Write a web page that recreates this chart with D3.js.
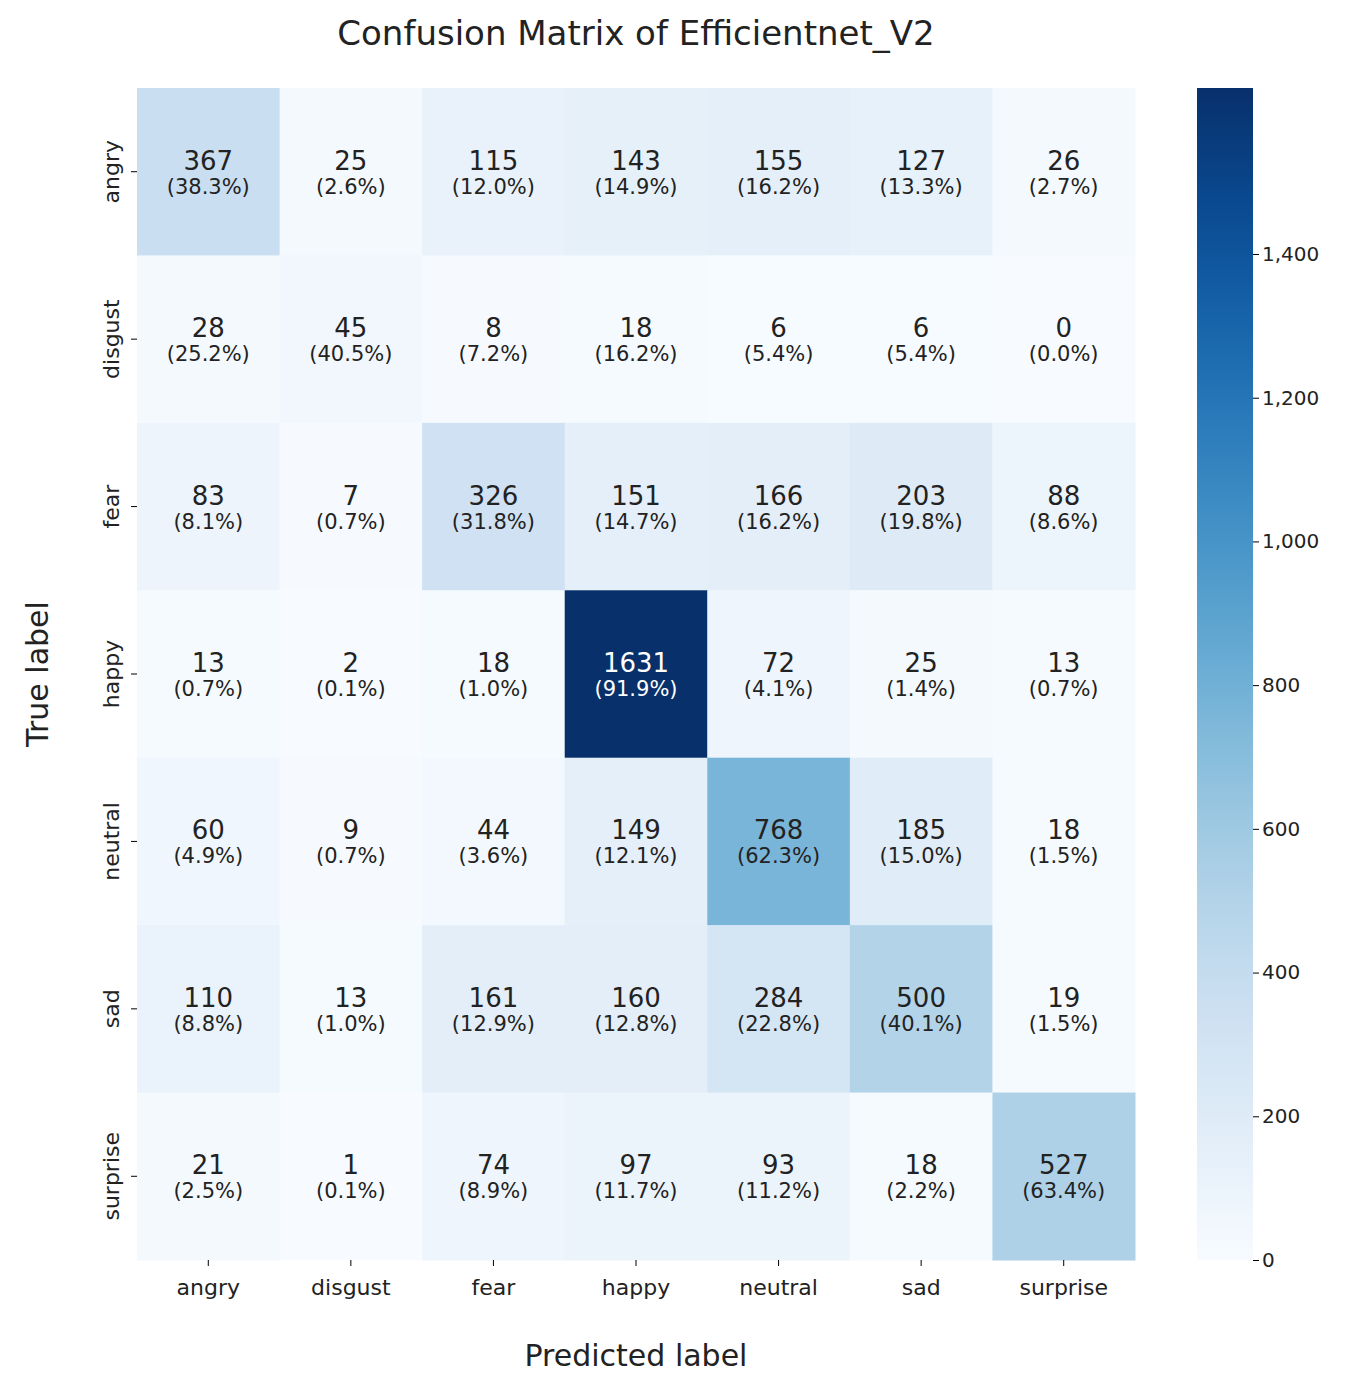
<!DOCTYPE html>
<html><head><meta charset="utf-8">
<script src="https://cdn.jsdelivr.net/npm/d3@7"></script>
<style>body{margin:0;background:#fff}text{font-family:"DejaVu Sans",sans-serif}</style>
</head><body><svg id="c" width="1345" height="1389"></svg>
<script>
const labels=["angry","disgust","fear","happy","neutral","sad","surprise"];
const counts=[
[367,25,115,143,155,127,26],
[28,45,8,18,6,6,0],
[83,7,326,151,166,203,88],
[13,2,18,1631,72,25,13],
[60,9,44,149,768,185,18],
[110,13,161,160,284,500,19],
[21,1,74,97,93,18,527]];
const pcts=[
["38.3%","2.6%","12.0%","14.9%","16.2%","13.3%","2.7%"],
["25.2%","40.5%","7.2%","16.2%","5.4%","5.4%","0.0%"],
["8.1%","0.7%","31.8%","14.7%","16.2%","19.8%","8.6%"],
["0.7%","0.1%","1.0%","91.9%","4.1%","1.4%","0.7%"],
["4.9%","0.7%","3.6%","12.1%","62.3%","15.0%","1.5%"],
["8.8%","1.0%","12.9%","12.8%","22.8%","40.1%","1.5%"],
["2.5%","0.1%","8.9%","11.7%","11.2%","2.2%","63.4%"]];
const cbTicks=[0,200,400,600,800,1000,1200,1400];
const svg=d3.select("#c");
const L=137,R=1135,T=88,B=1260;
const x=d3.scaleBand().domain(labels).range([L,R]);
const y=d3.scaleBand().domain(labels).range([T,B]);
const vmax=1631;
const col=d3.scaleSequential(t=>d3.interpolateBlues(t)).domain([0,vmax]);
counts.forEach((row,i)=>row.forEach((v,j)=>{
  const g=svg.append("g");
  g.append("rect").attr("x",x(labels[j])).attr("y",y(labels[i])).attr("width",x.bandwidth()+0.5).attr("height",y.bandwidth()+0.5).attr("fill",col(v));
  const cx=x(labels[j])+x.bandwidth()/2, cy=y(labels[i])+y.bandwidth()/2;
  const fc=v>1000?"#fff":"#222";
  g.append("text").attr("x",cx).attr("y",cy-2).attr("text-anchor","middle").attr("font-size",26).attr("fill",fc).text(v);
  g.append("text").attr("x",cx).attr("y",cy+22).attr("text-anchor","middle").attr("font-size",21).attr("fill",fc).text("("+pcts[i][j]+")");
}));
const xa=svg.append("g").attr("transform",`translate(0,${B})`).call(d3.axisBottom(x).tickSize(6));
xa.select(".domain").remove();
xa.selectAll("text").attr("font-size",22).attr("fill","#222").attr("dy","1.2em");
const ya=svg.append("g").attr("transform",`translate(${L},0)`).call(d3.axisLeft(y).tickSize(6));
ya.select(".domain").remove();
ya.selectAll("text").attr("font-size",22).attr("fill","#222").attr("transform","rotate(-90)").attr("x",0).attr("y",-26).attr("dy","0").attr("text-anchor","middle")
  .attr("transform",function(){return "rotate(-90)";});
// reposition rotated y labels
ya.selectAll(".tick text").attr("transform","rotate(-90)").attr("x",0).attr("y",-18);
svg.append("text").attr("x",636).attr("y",45).attr("text-anchor","middle").attr("font-size",34).attr("fill","#222").text("Confusion Matrix of Efficientnet_V2");
svg.append("text").attr("x",636).attr("y",1366).attr("text-anchor","middle").attr("font-size",30).attr("fill","#222").text("Predicted label");
svg.append("text").attr("transform","translate(48,674) rotate(-90)").attr("text-anchor","middle").attr("font-size",30).attr("fill","#222").text("True label");
// colorbar
const cbX=1197,cbW=56;
const defs=svg.append("defs");
const grad=defs.append("linearGradient").attr("id","g").attr("x1",0).attr("y1",1).attr("x2",0).attr("y2",0);
d3.range(0,1.001,0.05).forEach(t=>grad.append("stop").attr("offset",t).attr("stop-color",d3.interpolateBlues(t)));
svg.append("rect").attr("x",cbX).attr("y",T).attr("width",cbW).attr("height",B-T).attr("fill","url(#g)");
const cy=d3.scaleLinear().domain([0,vmax]).range([B,T]);
const ca=svg.append("g").attr("transform",`translate(${cbX+cbW},0)`).call(d3.axisRight(cy).tickValues(cbTicks).tickSize(6));
ca.select(".domain").remove();
ca.selectAll("text").attr("font-size",20).attr("fill","#222");
</script></body></html>
